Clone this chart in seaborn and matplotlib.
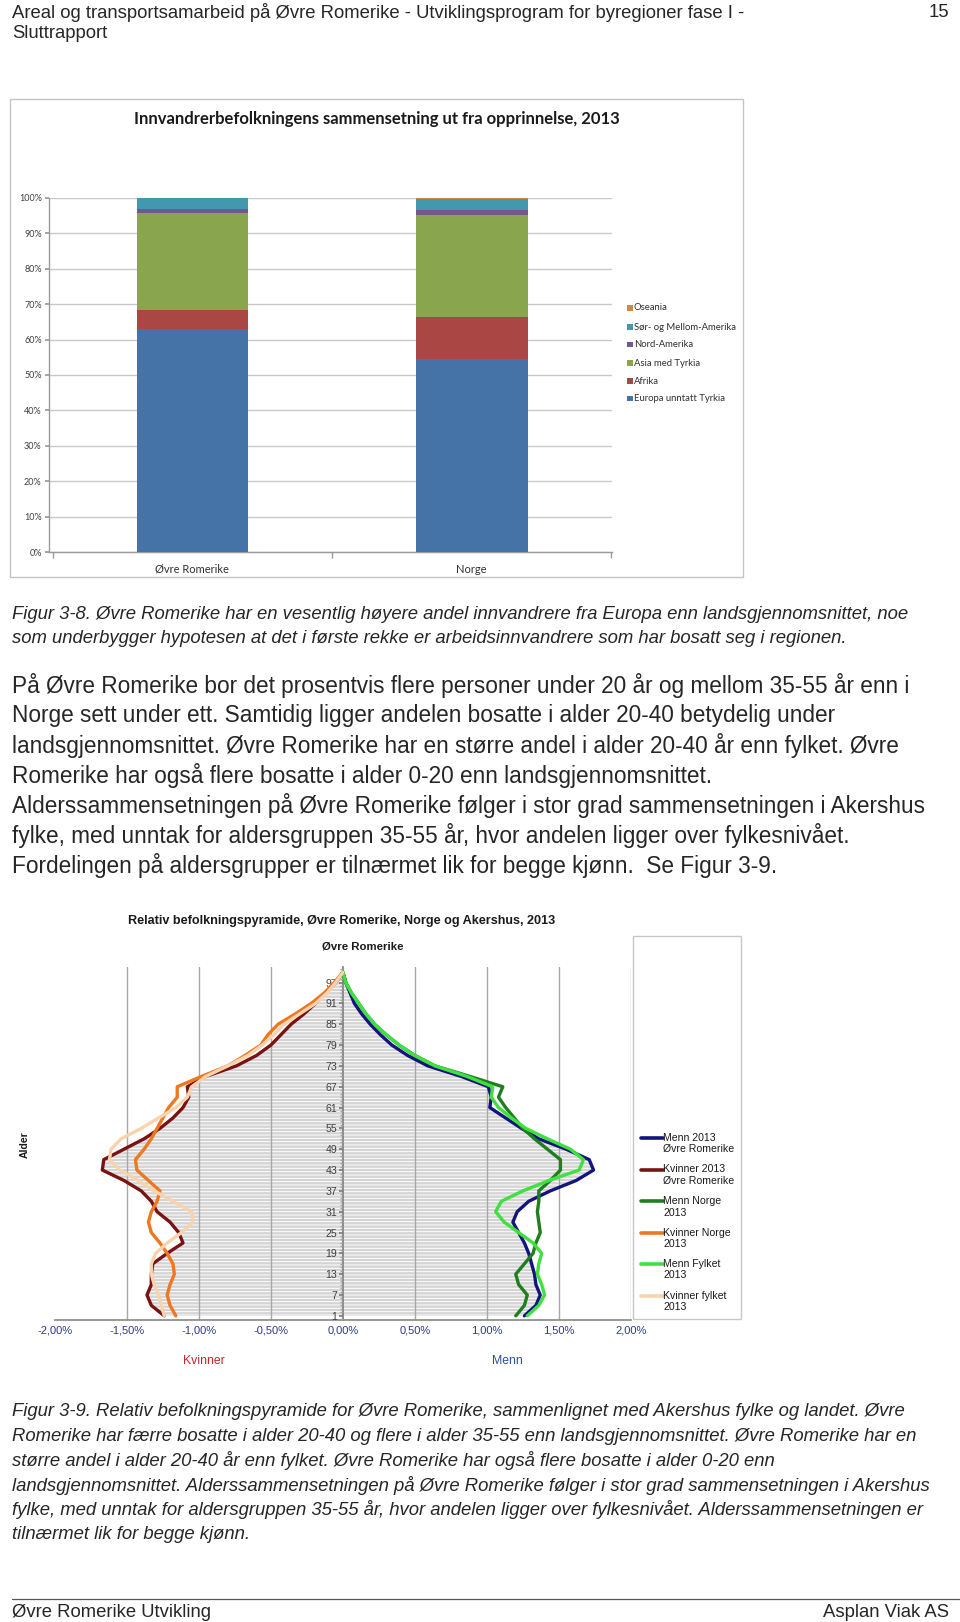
import numpy as np
import pandas as pd
import matplotlib
matplotlib.use("Agg")
import matplotlib.pyplot as plt
import seaborn as sns
from matplotlib.lines import Line2D
from matplotlib.patches import Rectangle
from matplotlib.ticker import FuncFormatter, MultipleLocator

# ---------------- data: bar chart ----------------
regions = ["Øvre Romerike", "Norge"]
origins = ["Europa unntatt Tyrkia", "Afrika", "Asia med Tyrkia",
           "Nord-Amerika", "Sør- og Mellom-Amerika", "Oseania"]
europa = [63.1, 54.6]
afrika = [5.2, 11.8]
asia = [27.4, 28.6]
nord_amerika = [1.2, 1.5]
sor_mellom_amerika = [3.0, 3.1]
oseania = [0.1, 0.4]
pct_ticks = [0, 10, 20, 30, 40, 50, 60, 70, 80, 90, 100]
bar_colors = ["#4572A7", "#AA4643", "#89A54E", "#71588F", "#4198AF", "#DB843D"]

# ---------------- data: population pyramid ----------------
ages = [1, 4, 7, 10, 13, 16, 19, 22, 25, 28, 31, 34, 37, 40, 43, 46, 49,
        52, 55, 58, 61, 64, 67, 70, 73, 76, 79, 82, 85, 88, 91, 94, 97, 100]
menn_or = [1.26, 1.34, 1.37, 1.34, 1.33, 1.31, 1.29, 1.26, 1.22, 1.18, 1.21, 1.29,
           1.44, 1.62, 1.74, 1.71, 1.55, 1.36, 1.24, 1.13, 1.02, 1.03, 1.01, 0.82,
           0.59, 0.45, 0.34, 0.26, 0.19, 0.13, 0.08, 0.05, 0.02, 0.0]
kvinner_or = [-1.24, -1.33, -1.36, -1.33, -1.33, -1.32, -1.22, -1.11, -1.14, -1.20,
              -1.29, -1.33, -1.40, -1.52, -1.67, -1.66, -1.52, -1.38, -1.27, -1.18,
              -1.11, -1.07, -1.08, -0.95, -0.74, -0.60, -0.50, -0.43, -0.36, -0.27,
              -0.19, -0.12, -0.05, 0.0]
menn_norge = [1.20, 1.26, 1.28, 1.22, 1.20, 1.26, 1.32, 1.34, 1.37, 1.36, 1.35, 1.36,
              1.36, 1.44, 1.51, 1.51, 1.42, 1.33, 1.25, 1.19, 1.13, 1.08, 1.11, 0.88,
              0.64, 0.50, 0.39, 0.30, 0.22, 0.16, 0.11, 0.06, 0.02, 0.0]
kvinner_norge = [-1.16, -1.20, -1.22, -1.20, -1.17, -1.18, -1.22, -1.27, -1.33, -1.35,
                 -1.33, -1.29, -1.27, -1.35, -1.43, -1.44, -1.38, -1.33, -1.29, -1.25,
                 -1.21, -1.15, -1.15, -0.98, -0.80, -0.68, -0.57, -0.52, -0.45, -0.33,
                 -0.22, -0.13, -0.06, 0.0]
menn_fylket = [1.28, 1.36, 1.40, 1.38, 1.35, 1.36, 1.38, 1.32, 1.22, 1.12, 1.06, 1.10,
               1.25, 1.43, 1.64, 1.67, 1.58, 1.42, 1.27, 1.17, 1.08, 1.03, 1.04, 0.86,
               0.64, 0.50, 0.39, 0.30, 0.22, 0.16, 0.11, 0.06, 0.02, 0.0]
kvinner_fylket = [-1.24, -1.26, -1.28, -1.31, -1.33, -1.33, -1.30, -1.22, -1.12, -1.04,
                  -1.05, -1.18, -1.31, -1.42, -1.55, -1.62, -1.61, -1.54, -1.40, -1.28,
                  -1.16, -1.08, -1.05, -0.95, -0.80, -0.66, -0.56, -0.48, -0.41, -0.30,
                  -0.19, -0.11, -0.05, 0.0]
age_ticks = [1, 7, 13, 19, 25, 31, 37, 43, 49, 55, 61, 67, 73, 79, 85, 91, 97]
share_ticks = [-2.0, -1.5, -1.0, -0.5, 0.0, 0.5, 1.0, 1.5, 2.0]
series_labels = ["Menn 2013\nØvre Romerike", "Kvinner 2013\nØvre Romerike",
                 "Menn Norge\n2013", "Kvinner Norge\n2013",
                 "Menn Fylket\n2013", "Kvinner fylket\n2013"]
series_colors = ["#14147F", "#7A1212", "#1F7F1F", "#EE7722", "#3FE03F", "#F7D3AE"]

# ---------------- page setup ----------------
W, H, DPI = 960, 1622, 100
sns.set_theme(style="white")
plt.rcParams["font.family"] = ["Liberation Sans", "DejaVu Sans"]
plt.rcParams["hatch.linewidth"] = 0.7
plt.rcParams["hatch.color"] = "white"

fig = plt.figure(figsize=(W / DPI, H / DPI), dpi=DPI)
fig.patch.set_facecolor("white")


def rect(x0, y0, x1, y1):
    return [x0 / W, 1 - y1 / H, (x1 - x0) / W, (y1 - y0) / H]


def fx(x):
    return x / W


def fy(y):
    return 1 - y / H


def ftext(x, y, s, **kw):
    kw.setdefault("va", "center")
    kw.setdefault("ha", "left")
    fig.text(fx(x), fy(y), s, **kw)


PAGE_FS = 13.3
CAP_FS = 13.3
BODY_FS = 16.3

# header
ftext(12, 12.5, "Areal og transportsamarbeid på Øvre Romerike - Utviklingsprogram for byregioner fase I -", fontsize=PAGE_FS)
ftext(12, 33.5, "Sluttrapport", fontsize=PAGE_FS)
ftext(949, 12.5, "15", fontsize=PAGE_FS, ha="right")

# ---------------- bar chart ----------------
fig.add_artist(Rectangle((fx(10.3), fy(576.5)), (742.8 - 10.3) / W, (576.5 - 99.3) / H,
                         transform=fig.transFigure, fill=False, edgecolor="#C4C4C4", lw=1.0))
ax1 = fig.add_axes(rect(48.6, 197.6, 612.4, 552.4))
series = [europa, afrika, asia, nord_amerika, sor_mellom_amerika, oseania]
cums = np.cumsum(np.array(series), axis=0)
for i in reversed(range(len(series))):
    sns.barplot(x=regions, y=cums[i], order=regions, color=bar_colors[i], width=0.4,
                saturation=1, linewidth=0, edgecolor="none", ax=ax1, zorder=3)
ax1.set_xlim(-0.515, 1.504)
ax1.set_ylim(0, 100)
ax1.set_yticks(pct_ticks)
ax1.yaxis.set_major_formatter(FuncFormatter(lambda v, p: f"{v:.0f}%"))
ax1.yaxis.grid(True, color="#C9C9C9", lw=1.0, zorder=0)
ax1.xaxis.grid(False)
ax1.set_axisbelow(True)
for s in ["top", "right"]:
    ax1.spines[s].set_visible(False)
for s in ["left", "bottom"]:
    ax1.spines[s].set_color("#9A9A9A")
    ax1.spines[s].set_linewidth(1.0)
ax1.tick_params(axis="y", length=3, color="#9A9A9A", labelsize=6.5, labelcolor="#404040", pad=2, left=True)
ax1.tick_params(axis="x", length=0, labelsize=8, labelcolor="#303030", pad=8)
ax1.set_xticks([-0.5, 0.5, 1.5], minor=True)
ax1.tick_params(axis="x", which="minor", length=4, color="#9A9A9A", bottom=True)
for lbl in ax1.get_xticklabels() + ax1.get_yticklabels():
    lbl.set_fontfamily(["Lato", "DejaVu Sans"])
ax1.set_xlabel("")
ax1.set_ylabel("")
ftext(377, 119, "Innvandrerbefolkningens sammensetning ut fra opprinnelse, 2013",
      fontsize=12, fontweight="bold", ha="center", family=["Lato", "DejaVu Sans"], color="#1A1A1A")
leg_y = [308, 327, 344.5, 363, 381, 398.5]
for i, yy in enumerate(leg_y):
    k = len(origins) - 1 - i
    fig.add_artist(Rectangle((fx(627), fy(yy + 2.8)), 5.6 / W, 5.6 / H,
                             transform=fig.transFigure, facecolor=bar_colors[k], edgecolor="none"))
    ftext(634, yy, origins[k], fontsize=6.8, family=["Lato", "DejaVu Sans"], color="#303030")

# ---------------- captions & text ----------------
cap1 = ["Figur 3-8. Øvre Romerike har en vesentlig høyere andel innvandrere fra Europa enn landsgjennomsnittet, noe",
        "som underbygger hypotesen at det i første rekke er arbeidsinnvandrere som har bosatt seg i regionen."]
for j, line in enumerate(cap1):
    ftext(12, 614.5 + j * 23.8, line, fontsize=CAP_FS, style="italic")

body = ["På Øvre Romerike bor det prosentvis flere personer under 20 år og mellom 35-55 år enn i",
        "Norge sett under ett. Samtidig ligger andelen bosatte i alder 20-40 betydelig under",
        "landsgjennomsnittet. Øvre Romerike har en større andel i alder 20-40 år enn fylket. Øvre",
        "Romerike har også flere bosatte i alder 0-20 enn landsgjennomsnittet.",
        "Alderssammensetningen på Øvre Romerike følger i stor grad sammensetningen i Akershus",
        "fylke, med unntak for aldersgruppen 35-55 år, hvor andelen ligger over fylkesnivået.",
        "Fordelingen på aldersgrupper er tilnærmet lik for begge kjønn.  Se Figur 3-9."]
for j, line in enumerate(body):
    ftext(12, 685.5 + j * 30.0, line, fontsize=BODY_FS)

# ---------------- pyramid ----------------
ax2 = fig.add_axes(rect(54.8, 967, 631, 1320))
ax2.set_axisbelow(False)
ax2.set_xlim(-2, 2)
ax2.set_ylim(-0.2, 101.5)
ax2.fill_betweenx(ages, 0, kvinner_or, facecolor="#D4D4D4", edgecolor="white",
                  hatch="-----", linewidth=0, zorder=1)
ax2.fill_betweenx(ages, 0, menn_or, facecolor="#D4D4D4", edgecolor="white",
                  hatch="-----", linewidth=0, zorder=1)
for g in share_ticks:
    if g not in (-2.0, 0.0):
        ax2.axvline(g, color="#A8A8A8", lw=1.0, zorder=1.5)
draw_order = [(kvinner_fylket, 5), (menn_fylket, 4), (kvinner_norge, 3), (menn_norge, 2),
              (kvinner_or, 1), (menn_or, 0)]
for vals, k in draw_order:
    sns.lineplot(x=vals, y=ages, orient="y", sort=False, color=series_colors[k],
                 lw=2.4, ax=ax2, zorder=3 + k * 0.01)
ax2.grid(False)
ax2.spines["left"].set_position(("data", 0))
ax2.spines["left"].set_color("#7F7F7F")
for s in ["top", "right"]:
    ax2.spines[s].set_visible(False)
ax2.spines["bottom"].set_color("#8C8C8C")
ax2.set_yticks(age_ticks)
ax2.yaxis.set_minor_locator(MultipleLocator(1))
ax2.tick_params(axis="y", which="major", length=3, color="#7F7F7F", labelsize=7.6,
                labelcolor="#404040", pad=1, left=True)
ax2.tick_params(axis="y", which="minor", length=2, color="#9F9F9F", left=True)
ax2.set_xticks(share_ticks)
ax2.xaxis.set_major_formatter(FuncFormatter(lambda v, p: f"{v:.2f}%".replace(".", ",")))
ax2.tick_params(axis="x", length=0, labelsize=8, labelcolor="#2E3A8C", pad=4)
ax2.set_xlabel("")
ax2.set_ylabel("")
if ax2.get_legend() is not None:
    ax2.get_legend().remove()

ftext(342, 921, "Relativ befolkningspyramide, Øvre Romerike, Norge og Akershus, 2013",
      fontsize=9.1, fontweight="bold", ha="center", color="#1A1A1A")
ftext(363, 947, "Øvre Romerike", fontsize=8.2, fontweight="bold", ha="center", color="#1A1A1A")
ftext(25, 1145, "Alder", fontsize=7.5, fontweight="bold", ha="center", rotation=90, color="#1A1A1A")
ftext(204, 1361, "Kvinner", fontsize=8.8, ha="center", color="#C0282D")
ftext(507, 1361, "Menn", fontsize=8.8, ha="center", color="#2F4F9F")

fig.add_artist(Rectangle((fx(633), fy(1319)), (741 - 633) / W, (1319 - 936) / H,
                         transform=fig.transFigure, fill=False, edgecolor="#C8C8C8", lw=1.0))
leg2_y = [1138, 1169.5, 1201, 1232.5, 1264, 1296]
for k, yy in enumerate(leg2_y):
    fig.add_artist(Line2D([fx(641), fx(663)], [fy(yy), fy(yy)], transform=fig.transFigure,
                          color=series_colors[k], lw=2.6))
    first, second = series_labels[k].split("\n")
    ftext(663, yy, first, fontsize=7.6, color="#1A1A1A")
    ftext(663, yy + 11.5, second, fontsize=7.6, color="#1A1A1A")

cap2 = ["Figur 3-9. Relativ befolkningspyramide for Øvre Romerike, sammenlignet med Akershus fylke og landet. Øvre",
        "Romerike har færre bosatte i alder 20-40 og flere i alder 35-55 enn landsgjennomsnittet. Øvre Romerike har en",
        "større andel i alder 20-40 år enn fylket. Øvre Romerike har også flere bosatte i alder 0-20 enn",
        "landsgjennomsnittet. Alderssammensetningen på Øvre Romerike følger i stor grad sammensetningen i Akershus",
        "fylke, med unntak for aldersgruppen 35-55 år, hvor andelen ligger over fylkesnivået. Alderssammensetningen er",
        "tilnærmet lik for begge kjønn."]
for j, line in enumerate(cap2):
    ftext(12, 1411.5 + j * 24.6, line, fontsize=CAP_FS, style="italic")

# footer
fig.add_artist(Line2D([fx(12), fx(960)], [fy(1598.5), fy(1598.5)], transform=fig.transFigure,
                      color="#555555", lw=0.9))
ftext(12, 1612.5, "Øvre Romerike Utvikling", fontsize=PAGE_FS)
ftext(949, 1612.5, "Asplan Viak AS", fontsize=PAGE_FS, ha="right")

fig.savefig("out.png", dpi=DPI, facecolor="white")
